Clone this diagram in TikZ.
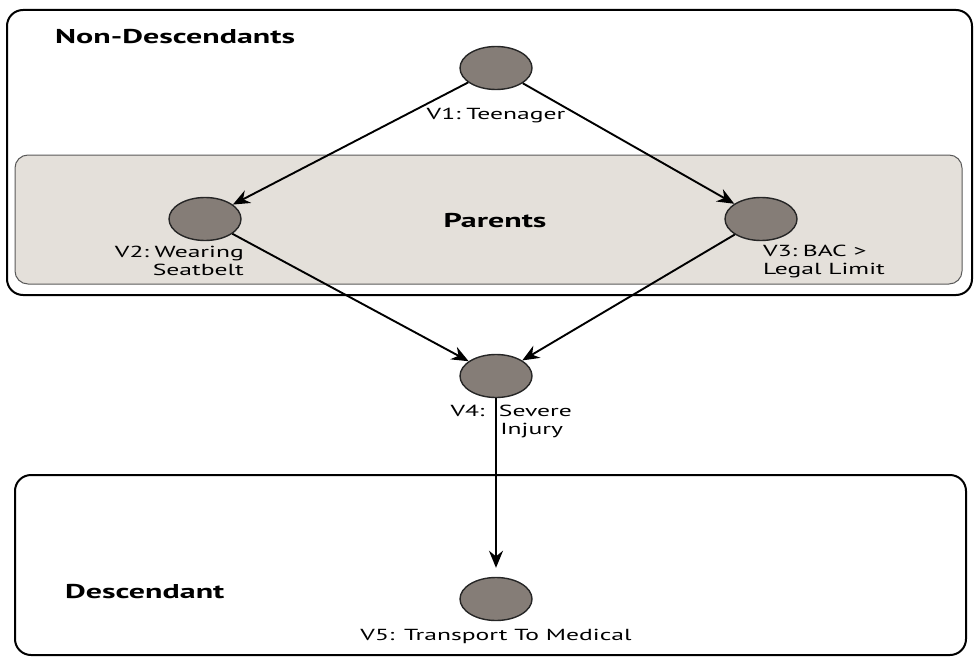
\documentclass[tikz,border=0pt]{standalone}
\usepackage{fontspec}
\setmainfont{PT Sans}
\newfontfamily\widefont[FakeStretch=1.6]{PT Sans}
\usetikzlibrary{arrows.meta,shapes.geometric}
\definecolor{nodefill}{RGB}{133,125,119}
\definecolor{parentfill}{RGB}{228,224,218}
\definecolor{parentedge}{RGB}{90,90,90}
\newcommand{\cgap}{\hspace{0.35em}}
\tikzset{
  var/.style={ellipse, draw=black!85, line width=1.4pt, fill=nodefill,
    minimum width=72pt, minimum height=43pt, inner sep=0pt},
  lbl/.style={font=\widefont\fontsize{16}{18}\selectfont, inner sep=0pt},
  grouptitle/.style={font=\widefont\bfseries\fontsize{20}{24}\selectfont, inner sep=0pt},
  edge/.style={line width=1.9pt, -{Stealth[length=17pt, width=14pt]}},
}
\begin{document}
\begin{tikzpicture}[x=1pt, y=-1pt]
\useasboundingbox (0,0) rectangle (974,658);

% group frames
\draw[line width=2pt, rounded corners=16pt] (7,10) rectangle (972,295);
\draw[parentedge, fill=parentfill, line width=1pt, rounded corners=13pt] (15,155) rectangle (962,284);
\draw[line width=2pt, rounded corners=16pt] (15,475) rectangle (966,655);

\node[grouptitle, anchor=west] (tnd) at (55,37) {Non-Descendants};
\node[grouptitle] (tpar) at (495,221) {Parents};
\node[grouptitle, anchor=west] (tdes) at (65,592) {Descendant};

% variables
\node[var] (v1) at (496,68) {};
\node[var] (v2) at (205,219) {};
\node[var] (v3) at (761,219) {};
\node[var] (v4) at (496,376) {};
\node[var] (v5) at (496,599) {};

\node[lbl] (l1) at (496,116) {V1:\cgap Teenager};
\node[lbl, align=right, anchor=east] (l2) at (244,261) {V2:\cgap Wearing\\Seatbelt};
\node[lbl, align=left, anchor=west] (l3) at (763,261) {V3:\cgap BAC \textgreater\\Legal Limit};
\node[lbl, align=right, anchor=east] (l4) at (572,421) {V4:\hspace{0.9em}Severe\\Injury\hspace*{0.55em}};
\node[lbl] (l5) at (496,636) {V5:\hspace{0.6em}Transport To Medical};

% causal links
\draw[edge] (v1) -- (v2);
\draw[edge] (v1) -- (v3);
\draw[edge] (v2) -- (v4);
\draw[edge] (v3) -- (v4);
\draw[edge, shorten >=9pt] (v4) -- (v5);
\end{tikzpicture}
\end{document}
